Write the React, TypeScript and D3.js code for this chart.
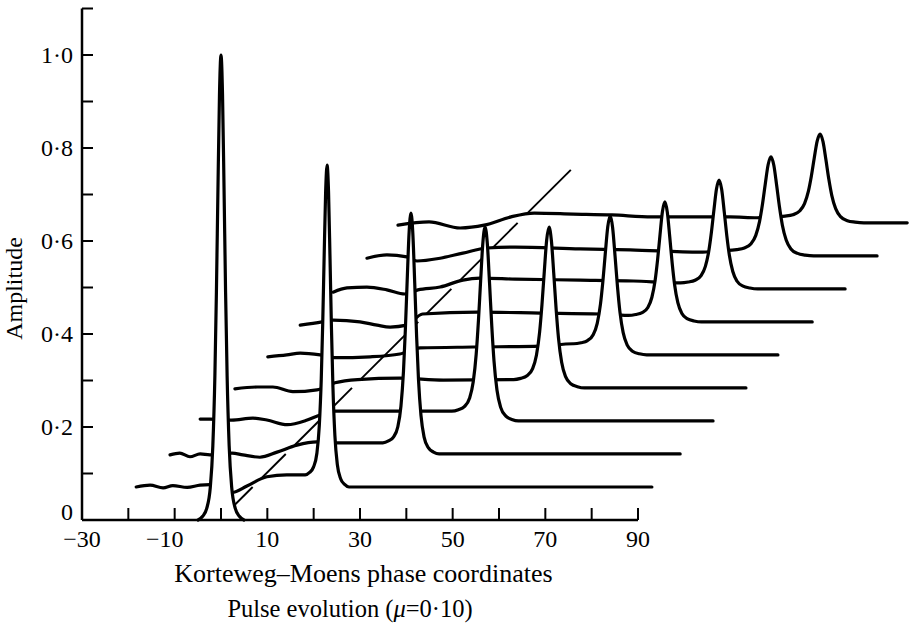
import React from "react";
import * as d3 from "d3";

const WIDTH = 913;
const HEIGHT = 623;

// Axis ticks
const X_TICK_VALUES = [-30, -20, -10, 0, 10, 20, 30, 40, 50, 60, 70, 80, 90];
const X_LABEL_VALUES = [-30, -10, 10, 30, 50, 70, 90];
const Y_TICK_VALUES = [0.1, 0.2, 0.3, 0.4, 0.5, 0.6, 0.7, 0.8, 0.9, 1.0, 1.1];
const Y_LABEL_VALUES = [0, 0.2, 0.4, 0.6, 0.8, 1.0];

// Each successive profile is shifted right and up (pseudo-3D waterfall)
const STEP_X = 7.0;
const STEP_AMP = 0.071;

// Solitary pulse of each profile: position, peak amplitude and width (local coordinates)
const PEAK_POSITION = [0, 15.9, 27.0, 36.0, 42.8, 49.0, 53.8, 58.5, 62.7, 66.3];
const PEAK_AMPLITUDE = [1.0, 0.692, 0.518, 0.417, 0.346, 0.299, 0.258, 0.234, 0.213, 0.191];
const PEAK_WIDTH = [1.1, 1.05, 1.35, 1.6, 1.7, 1.75, 1.75, 1.85, 2.05, 2.1];

// Pulse shape: distance from the crest (in widths) -> fraction of the crest height
const PULSE_PROFILE: [number, number][] = [
  [0, 1],
  [0.3, 0.915],
  [0.6, 0.71],
  [0.9, 0.49],
  [1.2, 0.31],
  [1.6, 0.16],
  [2.1, 0.07],
  [2.8, 0.025],
  [3.6, 0.008],
  [4.5, 0],
];

// Trailing wave behind each pulse (local coordinate, amplitude)
const TRAIL_0: [number, number][] = [];
const TRAIL_1: [number, number][] = [
  [-25.3, 0], [-22.3, 0.004], [-19.5, -0.002], [-17.4, 0.003], [-14.3, -0.001],
  [-11.5, 0.004], [-9.4, 0.005], [-7, -0.004], [-4.6, -0.012], [-1.4, 0.002],
  [2.9, 0.022], [7.2, 0.026], [11.0, 0.026],
];
const TRAIL_2: [number, number][] = [
  [-25, -0.002], [-22.9, 0.002], [-20.7, -0.006], [-18.5, 0], [-16.4, -0.002],
  [-11.6, 0.002], [-9.3, -0.002], [-5.6, -0.007], [-1.9, 0.004], [2.4, 0.019],
  [6.7, 0.026], [10.6, 0.024], [20.5, 0.024],
];
const TRAIL_3: [number, number][] = [
  [-25.5, 0.004], [-23.4, 0.004], [-18.7, 0.002], [-14.1, 0.006], [-11.1, 0.002],
  [-6.7, -0.008], [-2.4, 0.002], [0.4, 0.013], [3.6, 0.021], [17.6, 0.021], [28.5, 0.021],
];
const TRAIL_4: [number, number][] = [
  [-25, -0.002], [-20.2, 0.002], [-16.8, 0.002], [-12.5, -0.008], [-7.3, -0.004],
  [-3.4, 0.011], [1.5, 0.018], [10.6, 0.021], [20, 0.017], [34.8, 0.018],
];
const TRAIL_5: [number, number][] = [
  [-24.9, -0.004], [-20.8, 0], [-17.9, 0.004], [-13.6, 0], [-10.4, -0.006],
  [-2.8, -0.004], [3.6, 0.002], [8, 0.015], [19.4, 0.017], [33.9, 0.019], [41, 0.024],
];
const TRAIL_6: [number, number][] = [
  [-24.9, -0.007], [-20.2, 0], [-17.8, 0.004], [-12, 0], [-8.3, -0.007],
  [-5.5, -0.011], [-1.9, -0.007], [1.5, 0.017], [13.3, 0.021], [26.9, 0.019],
  [39.8, 0.017], [45.8, 0.014],
];
const TRAIL_7: [number, number][] = [
  [-24.8, -0.007], [-21.8, 0.002], [-17.5, 0.004], [-13.2, -0.002], [-9.3, -0.011],
  [-6.5, -0.002], [-1.7, 0.004], [3.2, 0.019], [6.9, 0.023], [14.5, 0.021],
  [28.5, 0.019], [40, 0.017], [50, 0.013],
];
const TRAIL_8: [number, number][] = [
  [-24.5, -0.005], [-20.2, 0.002], [-15.9, -0.002], [-13.7, -0.011], [-8.7, -0.005],
  [-3.8, 0.006], [1.4, 0.017], [7.5, 0.019], [21.5, 0.015], [32.3, 0.013],
  [47.4, 0.008], [53.4, 0.012],
];
const TRAIL_9: [number, number][] = [
  [-24.8, -0.005], [-18.1, 0.002], [-11.4, -0.011], [-6.2, -0.005], [-0.4, 0.013],
  [4.6, 0.021], [13, 0.019], [21.4, 0.017], [30, 0.013], [38.5, 0.013],
  [46.9, 0.013], [52.7, 0.011], [56.8, 0.013],
];
const TRAILS = [TRAIL_0, TRAIL_1, TRAIL_2, TRAIL_3, TRAIL_4, TRAIL_5, TRAIL_6, TRAIL_7, TRAIL_8, TRAIL_9];

// Local coordinate where each profile's flat leading baseline stops
const TRACE_END = [NaN, 86.0, 85.1, 85.2, 85.3, 85.2, 85.6, 85.7, 85.6, 85.1];

// Straight line tracing the origin of successive profiles: [phase, amplitude]
const ORIGIN_LINE: [number, number][] = [
  [2.5, 0.028],
  [75.5, 0.753],
];

const xScale = d3.scaleLinear().domain([-30, 90]).range([82, 638]);
const yScale = d3.scaleLinear().domain([0, 1.1]).range([520, 8.5]);

function profilePoints(k: number): [number, number][] {
  const c = PEAK_POSITION[k];
  const A = PEAK_AMPLITUDE[k];
  const w = PEAK_WIDTH[k];
  const trail = TRAILS[k];
  const shelf = trail.length ? trail[trail.length - 1][1] : 0;
  const pts: [number, number][] = trail.map((p) => [p[0], p[1]]);
  for (let i = PULSE_PROFILE.length - 1; i > 0; i--) {
    const [d, r] = PULSE_PROFILE[i];
    pts.push([c - d * w, shelf + (A - shelf) * r]);
  }
  pts.push([c, A]);
  for (let i = 1; i < PULSE_PROFILE.length; i++) {
    const [d, r] = PULSE_PROFILE[i];
    pts.push([c + d * w, A * r]);
  }
  if (!Number.isNaN(TRACE_END[k])) pts.push([TRACE_END[k], 0]);
  return pts;
}

function originPoint(s: number): [number, number] {
  const [p0, p1] = ORIGIN_LINE;
  const t = (s * STEP_AMP - p0[1]) / (p1[1] - p0[1]);
  return [p0[0] + t * (p1[0] - p0[0]), p0[1] + t * (p1[1] - p0[1])];
}

const serif = "'Liberation Serif', 'Times New Roman', serif";

function yLabel(v: number) {
  return v === 0 ? "0" : d3.format(".1f")(v).replace(".", "\u00b7");
}
function xLabel(v: number) {
  return v < 0 ? "\u2212" + Math.abs(v) : String(v);
}

export default function App() {
  const count = PEAK_POSITION.length;
  const sMin = ORIGIN_LINE[0][1] / STEP_AMP;
  const sMax = ORIGIN_LINE[1][1] / STEP_AMP;

  const layers: React.ReactNode[] = [];
  for (let k = count - 1; k >= 0; k--) {
    // part of the origin line lying between profile k and k+1
    const lo = Math.max(k, sMin);
    const hi = Math.min(k === count - 1 ? Infinity : k + 1, sMax);
    if (hi > lo) {
      const a = originPoint(lo);
      const b = originPoint(hi);
      layers.push(
        <line
          key={`o${k}`}
          x1={xScale(a[0])}
          y1={yScale(a[1])}
          x2={xScale(b[0])}
          y2={yScale(b[1])}
          stroke="#000"
          strokeWidth={1.9}
        />
      );
    }
    const pts = profilePoints(k);
    const dx = k * STEP_X;
    const dy = k * STEP_AMP;
    const minA = Math.min(0, d3.min(pts, (p) => p[1]) as number);
    const area = d3
      .area<[number, number]>()
      .x((p) => xScale(p[0] + dx))
      .y0(yScale(dy + minA))
      .y1((p) => yScale(p[1] + dy))
      .curve(d3.curveMonotoneX);
    const line = d3
      .line<[number, number]>()
      .x((p) => xScale(p[0] + dx))
      .y((p) => yScale(p[1] + dy))
      .curve(d3.curveMonotoneX);
    layers.push(<path key={`f${k}`} d={area(pts) || ""} fill="#fff" stroke="none" />);
    layers.push(
      <path
        key={`l${k}`}
        d={line(pts) || ""}
        fill="none"
        stroke="#000"
        strokeWidth={3.2}
        strokeLinejoin="round"
        strokeLinecap="round"
      />
    );
  }

  const x0 = xScale(-30);
  const y0 = yScale(0);

  return (
    <svg
      width={WIDTH}
      height={HEIGHT}
      viewBox={`0 0 ${WIDTH} ${HEIGHT}`}
      style={{ position: "absolute", left: 0, top: 0, background: "#fff" }}
    >
      <rect x={0} y={0} width={WIDTH} height={HEIGHT} fill="#fff" />
      {layers}
      {/* axes */}
      <g stroke="#000" strokeWidth={2.5} fill="none">
        <line x1={x0} y1={y0} x2={xScale(90)} y2={y0} />
        <line x1={x0} y1={y0} x2={x0} y2={yScale(1.1)} />
        {X_TICK_VALUES.filter((v) => v > -30).map((v) => (
          <line key={`xt${v}`} x1={xScale(v)} y1={y0} x2={xScale(v)} y2={y0 - 12} strokeWidth={2} />
        ))}
        {Y_TICK_VALUES.map((v) => (
          <line key={`yt${v}`} x1={x0} y1={yScale(v)} x2={x0 + 11} y2={yScale(v)} strokeWidth={2} />
        ))}
      </g>
      <g fontFamily={serif} fontSize={24} fill="#000">
        {X_LABEL_VALUES.map((v) => (
          <text
            key={`xl${v}`}
            x={xScale(v) + (v === -10 ? -10 : 0)}
            y={547}
            textAnchor="middle"
          >
            {xLabel(v)}
          </text>
        ))}
        {Y_LABEL_VALUES.map((v) => (
          <text key={`yl${v}`} x={73} y={yScale(v) + (v === 0 ? -0.5 : 8.3)} textAnchor="end">
            {yLabel(v)}
          </text>
        ))}
        <text x={363.5} y={582} textAnchor="middle" fontSize={26}>
          Korteweg–Moens phase coordinates
        </text>
        <text x={350} y={617} textAnchor="middle" fontSize={24.5}>
          Pulse evolution (<tspan fontStyle="italic">μ</tspan>=0·10)
        </text>
        <text transform={`translate(21.5, 288.5) rotate(-90)`} textAnchor="middle">
          Amplitude
        </text>
      </g>
    </svg>
  );
}
